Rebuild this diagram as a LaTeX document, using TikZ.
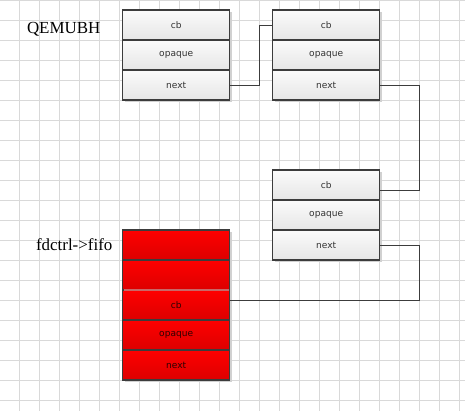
\documentclass[tikz,border=0pt]{standalone}
\usepackage{fontspec}
\setmainfont{Liberation Serif}
\newfontfamily\cellfont{DejaVu Sans}
\usetikzlibrary{calc,shadows}
\definecolor{edge}{HTML}{3C3C3C}
\definecolor{gridc}{HTML}{D9D9D9}
\definecolor{celltop}{HTML}{FBFBFB}
\definecolor{cellbot}{HTML}{E6E6E6}
\definecolor{redtop}{HTML}{FF0000}
\definecolor{redbot}{HTML}{DC0000}
\definecolor{redtext}{HTML}{2E0000}
\definecolor{seamc}{HTML}{C86868}

\begin{document}
\begin{tikzpicture}[x=0.75pt,y=-0.75pt,
		gridline/.style={draw=gridc,line width=0.75pt},
		field/.style={draw=edge,line width=0.8pt,top color=celltop,bottom color=cellbot,
			minimum width=80.25pt,minimum height=22.5pt,inner sep=0pt,outer sep=0pt,
			text=black!80,font=\cellfont\fontsize{6.8}{8}\selectfont,
			drop shadow={shadow xshift=1.5pt,shadow yshift=-1.5pt,fill=black!18,opacity=1}},
		redfield/.style={field,top color=redtop,bottom color=redbot,text=redtext},
		link/.style={draw=edge,line width=0.75pt},
		title/.style={font=\fontsize{12.7}{15}\selectfont,anchor=base}]
		\useasboundingbox (0,0) rectangle (465,411);
		%\draw[help lines] (0,0) grid (465,411);
		\foreach \x in {19.5,39.5,...,459.5} \draw[gridline] (\x,0) -- (\x,411);
		\foreach \y in {0,20,...,400} \draw[gridline] (0,\y) -- (465,\y);
		
		\node[title] (qemubh) at (63.7,33.7) {QEMUBH};
		\node[title] (fifo) at (74.2,250.5) {fdctrl->fifo};
		
		% the bh list
		\node[field] (b1cb) at (176.2,25) {cb};
		\node[field] (b1op) at (176.2,55) {opaque};
		\node[field] (b1nx) at (176.2,85) {next};
		\node[field] (b2cb) at (326.2,25) {cb};
		\node[field] (b2op) at (326.2,55) {opaque};
		\node[field] (b2nx) at (326.2,85) {next};
		\node[field] (b3cb) at (326.2,185) {cb};
		\node[field] (b3op) at (326.2,215) {opaque};
		\node[field] (b3nx) at (326.2,245) {next};
		
		% the fifo
		\node[redfield] (r1) at (176.2,245) {};
		\node[redfield] (r2) at (176.2,275) {};
		\node[redfield] (rcb) at (176.2,305) {cb};
		\node[redfield] (rop) at (176.2,335) {opaque};
		\node[redfield] (rnx) at (176.2,365) {next};
		\draw[seamc,line width=1.1pt] ([xshift=1pt]r2.south west) -- ([xshift=-0.5pt]r2.south east);
		
		\coordinate (rail) at (419.3,0);
		\coordinate (b3in) at ($(b3cb.east)+(0,5)$);
		\coordinate (rin) at ($(rcb.east)+(0,-5)$);
		\draw[link] (b1nx.east) -- ++(30,0) |- (b2cb.west);
		\draw[link] (b2nx.east) -- (b2nx.east -| rail) |- (b3in);
		\draw[link] (b3nx.east) -- (b3nx.east -| rail) |- (rin);
\end{tikzpicture}
\end{document}
